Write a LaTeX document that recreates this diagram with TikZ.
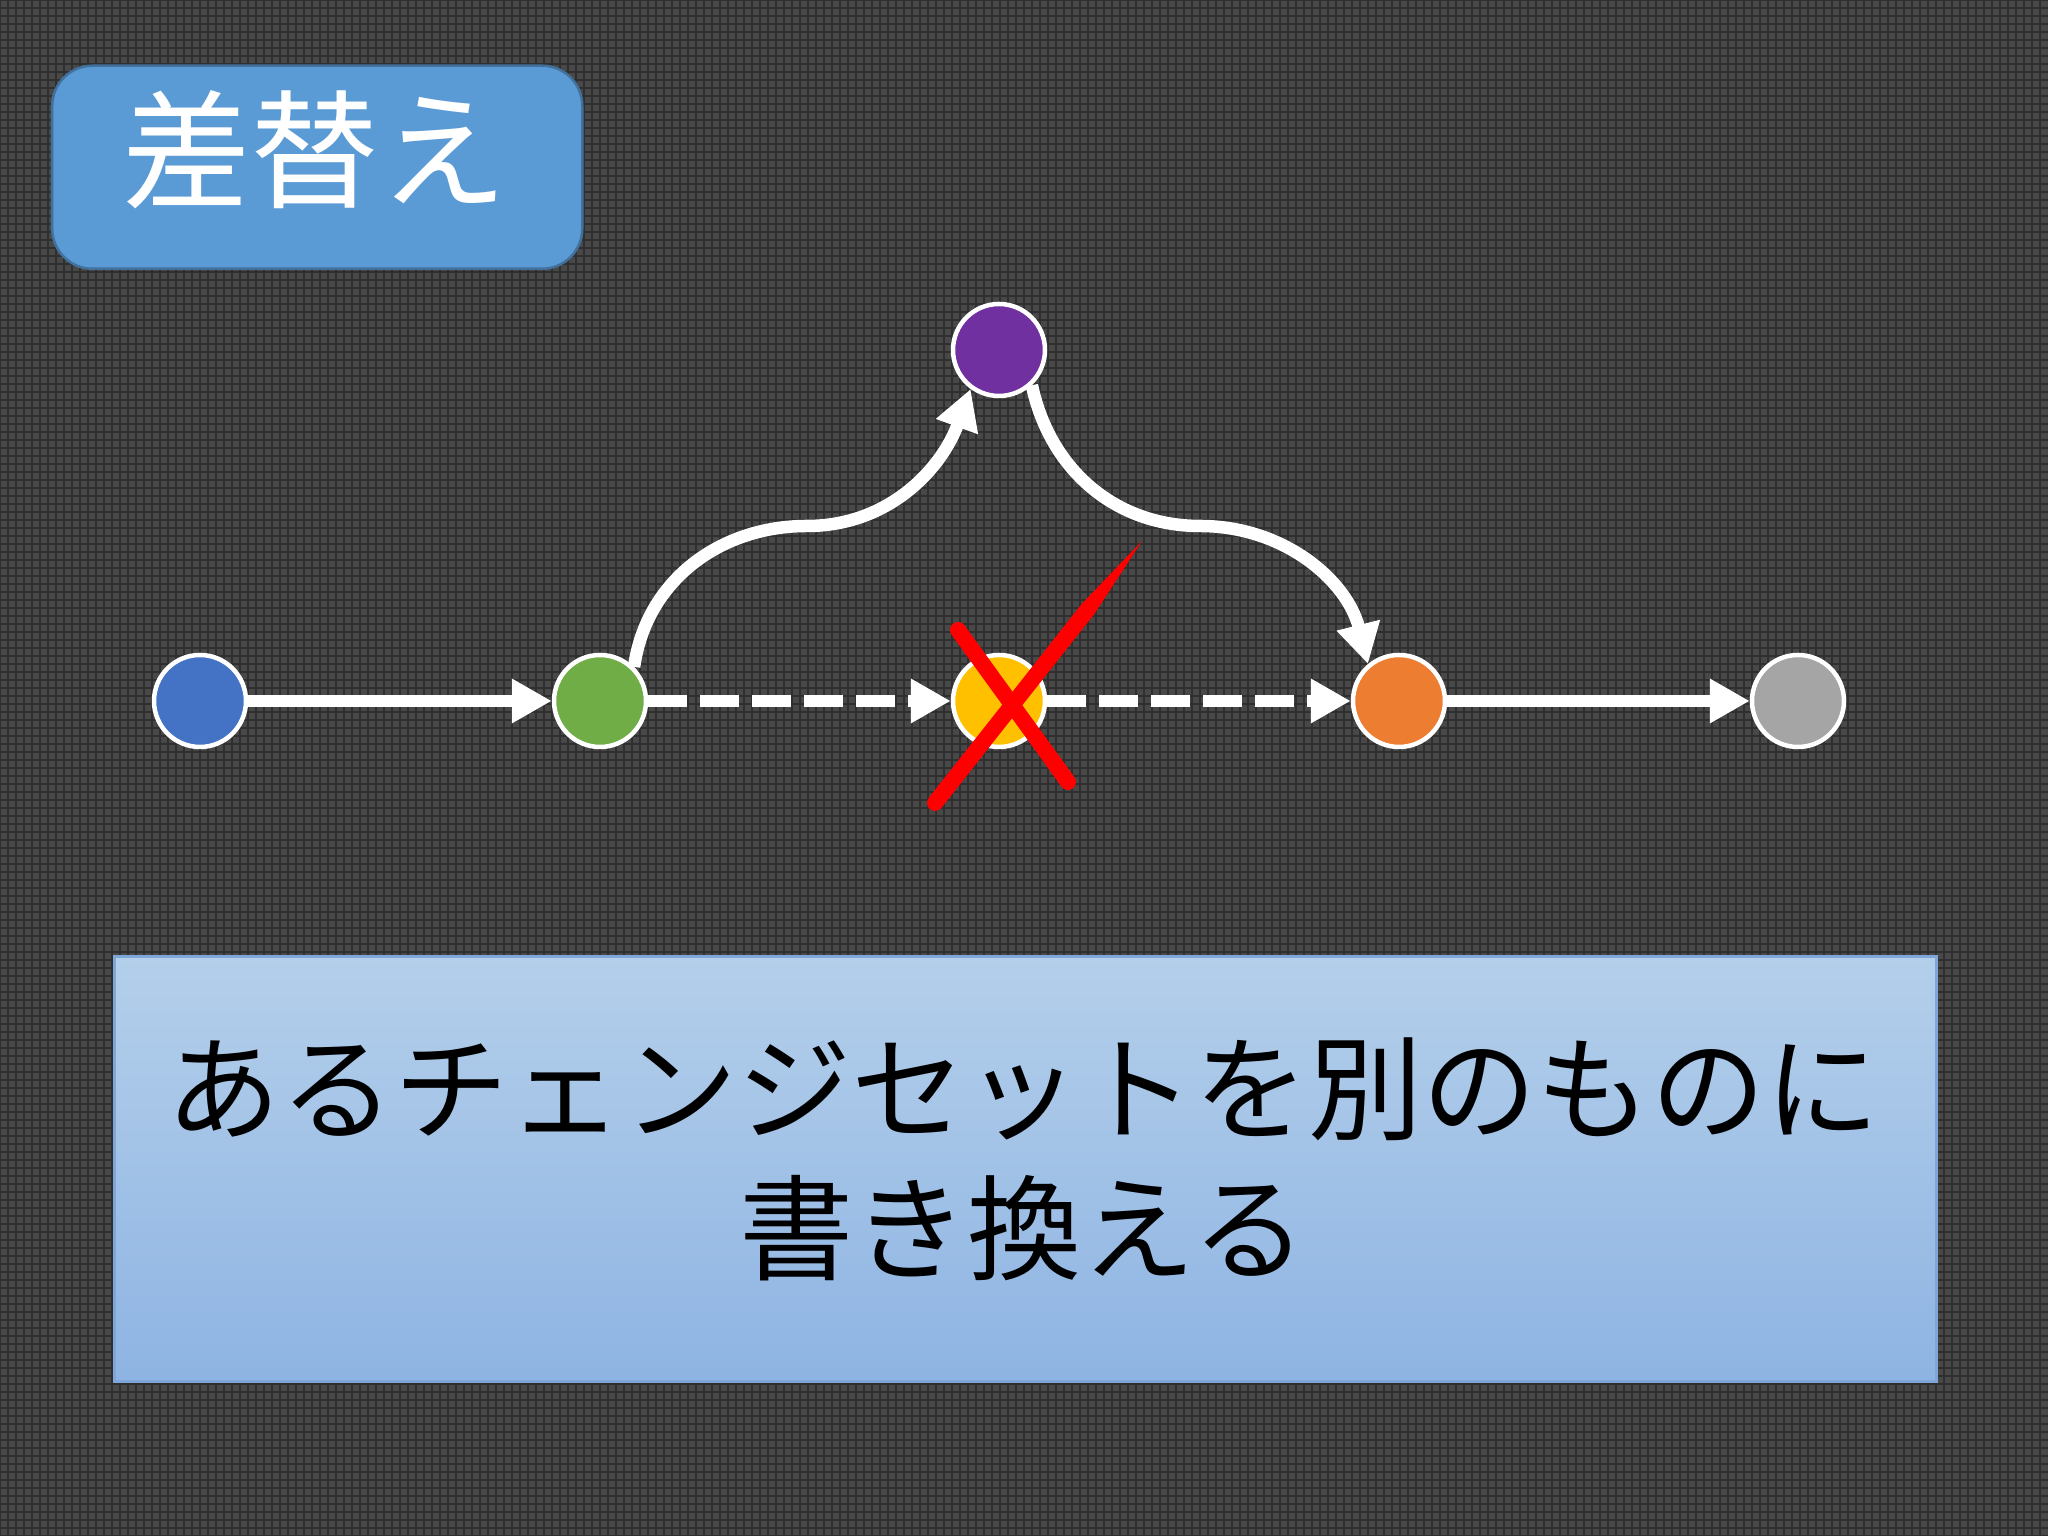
\documentclass[tikz,border=0pt]{standalone}
\usepackage{fontspec}
\newfontfamily\cjk{Noto Sans CJK JP}
\usetikzlibrary{arrows.meta,calc}
\definecolor{bgcell}{HTML}{484848}
\definecolor{bgline}{HTML}{2F2F2F}
\definecolor{titleblue}{HTML}{5B9BD5}
\definecolor{titleborder}{HTML}{41719C}
\definecolor{boxtop}{HTML}{B4CFEA}
\definecolor{boxbottom}{HTML}{8EB4E3}
\definecolor{boxborder}{HTML}{7EA6D8}
\definecolor{cblue}{HTML}{4472C4}
\definecolor{cgreen}{HTML}{70AD47}
\definecolor{cyellow}{HTML}{FFC000}
\definecolor{corange}{HTML}{ED7D31}
\definecolor{cgray}{HTML}{A5A5A5}
\definecolor{cpurple}{HTML}{7030A0}
\definecolor{crossred}{HTML}{FF0000}
\begin{document}
\begin{tikzpicture}[
  commit/.style={circle, draw=white, line width=0.045cm, minimum size=0.92cm, inner sep=0pt},
  flow/.style={draw=white, line width=0.125cm, -{Triangle[length=0.4cm,width=0.42cm]}},
  flowdash/.style={flow, dash pattern=on 0.39cm off 0.13cm},
  crossline/.style={draw=crossred, line width=0.16cm, line cap=round},
]
\useasboundingbox (0,0) rectangle (20.48,15.36);
\fill[bgcell] (0,0) rectangle (20.48,15.36);
\draw[bgline, line width=0.025cm, step=0.08] (0,0) grid (20.48,15.36);

% title
\node[draw=titleborder, fill=titleblue, line width=0.025cm, rounded corners=0.4cm,
      minimum width=5.3cm, minimum height=2.03cm, anchor=south west, inner sep=0pt]
      (title) at (0.51,12.66) {};
\node[text=white, font=\cjk\fontsize{36.5}{42}\selectfont, inner sep=0pt] (titletext) at (3.15,13.86) {差替え};

% description box
\node[draw=boxborder, line width=0.025cm, top color=boxtop, bottom color=boxbottom,
      minimum width=18.22cm, minimum height=4.25cm, anchor=south west, inner sep=0pt]
      (desc) at (1.13,1.53) {};
\node[font=\cjk\fontsize{32.5}{39.8}\selectfont, align=center, text=black, inner sep=0pt]
      (desctext) at (10.23,3.77) {あるチェンジセットを別のものに\\書き換える};

% commits
\node[commit, fill=cblue]   (blue)   at (2.00,8.35) {};
\node[commit, fill=cgreen]  (green)  at (6.00,8.35) {};
\node[commit, fill=cyellow] (yellow) at (9.99,8.35) {};
\node[commit, fill=corange] (orange) at (13.99,8.35) {};
\node[commit, fill=cgray]   (gray)   at (17.98,8.35) {};
\node[commit, fill=cpurple] (purple) at (9.99,11.86) {};

\coordinate (c1) at (8.07,10.10);
\coordinate (c2) at (12.00,10.10);

% connectors
\draw[flow] (blue) -- (green);
\draw[flowdash] (green) -- (yellow);
\draw[flowdash] (yellow) -- (orange);
\draw[flow] (orange) -- (gray);
\draw[flow] (green.45) to[out=82,in=180] (c1) to[out=0,in=-110] (purple.-126);
\draw[flow] (purple.-47) to[out=-78,in=180] (c2) to[out=0,in=104] (orange.130);

% red cross
\draw[crossline] (9.58,9.06) -- (10.68,7.54);
\coordinate (xl) at (9.35,7.33);
\coordinate (xt) at (11.42,9.95);
\fill[crossred] (9.287,7.380) -- (10.817,9.320) -- (xt) -- (10.943,9.220) -- (9.413,7.280) -- cycle;
\fill[crossred] (xl) circle (0.08);
\end{tikzpicture}
\end{document}
